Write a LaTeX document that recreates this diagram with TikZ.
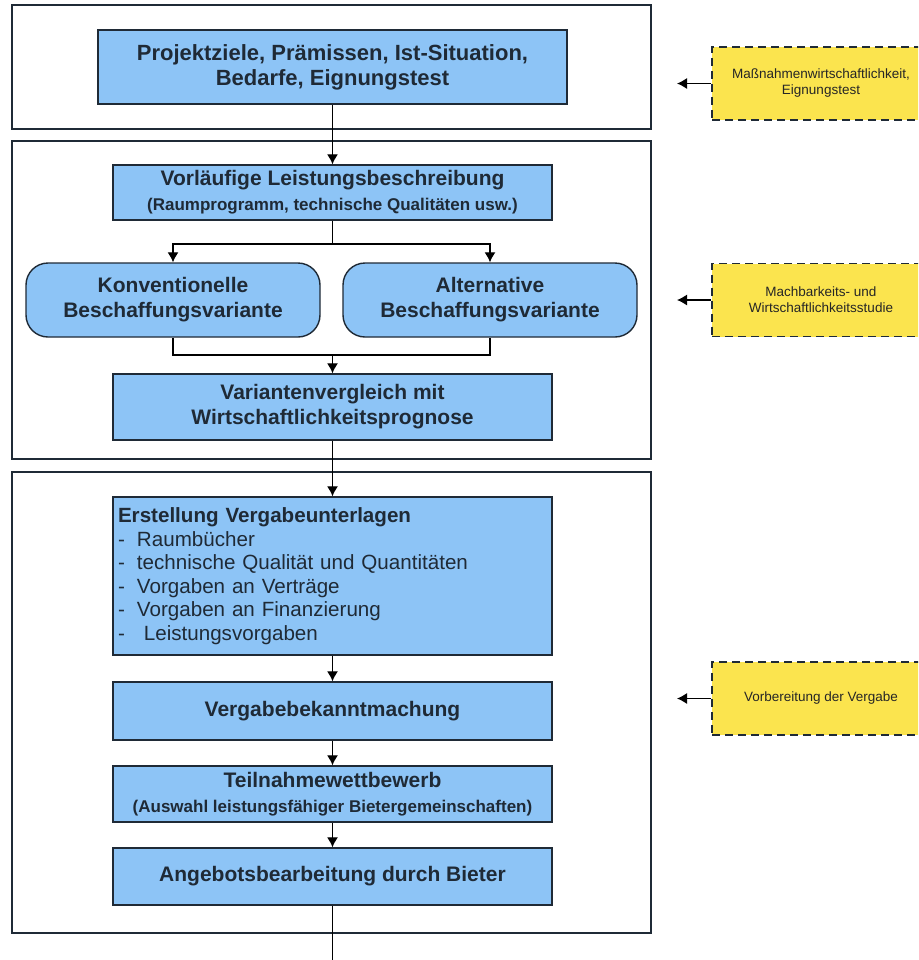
\documentclass[tikz,border=0pt]{standalone}
\usepackage{fontspec}
\setmainfont{Liberation Sans}
\setsansfont{Liberation Sans}
\usetikzlibrary{arrows.meta,positioning}
\definecolor{palBlue}{HTML}{8DC4F6}
\definecolor{palYellow}{HTML}{FBE44E}
\definecolor{palLine}{HTML}{1F2A36}

\begin{document}
\begin{tikzpicture}[
  x=0.5pt, y=-0.5pt,
  font=\sffamily,
  frame/.style={draw=palLine, line width=1pt},
  box/.style={draw=palLine, fill=palBlue, line width=0.7pt, align=center, inner sep=2pt, text=palLine, minimum width=219.5pt, font=\sffamily\bfseries\fontsize{10.5}{12.5}\selectfont},
  variant/.style={box, rounded corners=11pt, minimum width=147pt, minimum height=37pt},
  note/.style={draw=palLine, dash pattern=on 4pt off 2.5pt, fill=palYellow, line width=0.6pt, align=center, text=black!85, minimum width=109pt, minimum height=36.5pt, font=\sffamily\fontsize{6.75}{8}\selectfont},
  arrow/.style={-{Latex[length=5pt,width=5.5pt]}, line width=0.6pt},
  link/.style={line width=0.6pt},
]
\useasboundingbox (0,0) rectangle (918,960);
\clip (0,0) rectangle (918,960);

% phase frames
\draw[frame] (12,5) rectangle (651,129);
\draw[frame] (12,141) rectangle (651,459);
\draw[frame] (12,472) rectangle (651,933);

\node[box, minimum width=234.5pt, minimum height=37pt, font=\sffamily\bfseries\fontsize{11}{12.5}\selectfont] (goals) at (332.5,67) {Projektziele, Prämissen, Ist-Situation,\\Bedarfe, Eignungstest};
\node[box, minimum height=27.5pt] (spec) at (332.5,192.5) {Vorläufige Leistungsbeschreibung\\{\fontsize{8.5}{10}\selectfont (Raumprogramm, technische Qualitäten usw.)}};
\node[variant] (conv) at (173,300) {Konventionelle\\Beschaffungsvariante};
\node[variant] (alt) at (490,300) {Alternative\\Beschaffungsvariante};
\node[box, minimum height=33pt] (compare) at (332.5,407) {Variantenvergleich mit\\Wirtschaftlichkeitsprognose};

\node[box, minimum height=79pt, align=left, inner xsep=2.5pt, text width=214.5pt, font=\sffamily\fontsize{10.3}{11.75}\selectfont] (docs) at (332.5,576) {\textbf{Erstellung Vergabeunterlagen}\\
\makebox[9.5pt][l]{-}Raumbücher\\
\makebox[9.5pt][l]{-}technische Qualität und Quantitäten\\
\makebox[9.5pt][l]{-}Vorgaben an Verträge\\
\makebox[9.5pt][l]{-}Vorgaben an Finanzierung\\
\makebox[9.5pt][l]{-}\ Leistungsvorgaben};
\node[box, minimum height=29pt] (notice) at (332.5,711) {Vergabebekanntmachung};
\node[box, minimum height=28pt] (contest) at (332.5,794) {Teilnahmewettbewerb\\{\fontsize{8.5}{10}\selectfont (Auswahl leistungsfähiger Bietergemeinschaften)}};
\node[box, minimum height=28.5pt] (offers) at (332.5,876.5) {Angebotsbearbeitung durch Bieter};

% notes on the right
\node[note] (noteA) at (821,83.5) {Maßnahmenwirtschaftlichkeit,\\Eignungstest};
\node[note] (noteB) at (821,300) {Machbarkeits- und\\Wirtschaftlichkeitsstudie};
\node[note] (noteC) at (821,698.5) {Vorbereitung der Vergabe};
\coordinate (tipA) at (677,83.5);
\coordinate (tipB) at (677,300);
\coordinate (tipC) at (677,698.5);
\draw[arrow] (noteA.west) -- (tipA);
\draw[arrow] (noteB.west) -- (tipB);
\draw[arrow] (noteC.west) -- (tipC);

% flow
\coordinate (split) at (332.5,244);
\coordinate (merge) at (332.5,355);
\coordinate (exit) at (332.5,965);
\draw[arrow] (goals) -- (spec);
\draw[link] (spec) -- (split);
\draw[arrow] (split) -| (conv.north);
\draw[arrow] (split) -| (alt.north);
\draw[link] (conv.south) |- (merge) -| (alt.south);
\draw[arrow] (merge) -- (compare);
\draw[arrow] (compare) -- (docs);
\draw[arrow] (docs) -- (notice);
\draw[arrow] (notice) -- (contest);
\draw[arrow] (contest) -- (offers);
\draw[link] (offers) -- (exit);
\end{tikzpicture}
\end{document}
